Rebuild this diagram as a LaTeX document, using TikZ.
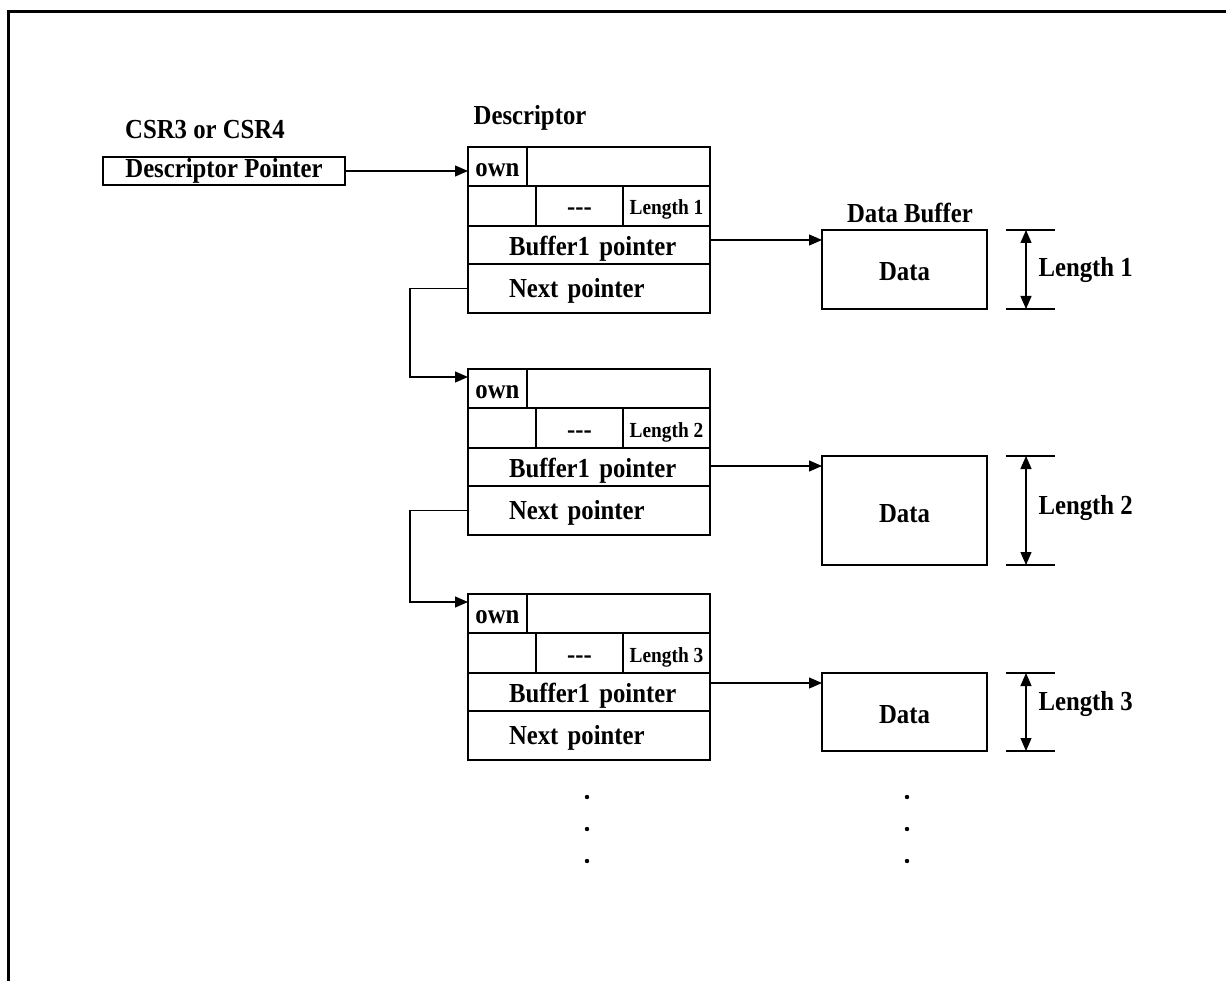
\documentclass[tikz,border=0pt]{standalone}
\usepackage{fontspec}
\setmainfont{Liberation Serif}[FakeStretch=0.9]
\usepackage{tikz}
\usetikzlibrary{calc}
\usetikzlibrary{arrows.meta}
\tikzstyle{txt}=[font=\bfseries\fontsize{27.5}{32}\selectfont]
\tikzstyle{smalltxt}=[font=\bfseries\fontsize{21.5}{25}\selectfont]
\tikzstyle{cell}=[draw,line width=1.2pt,inner sep=0pt,outer sep=0pt,anchor=north west,txt,text height=20pt,text depth=0pt]
\tikzstyle{ptr}=[line width=1.2pt,-{Triangle[length=13pt,width=11pt]}]
\tikzstyle{dim}=[line width=1.2pt,{Triangle[length=13pt,width=11pt]}-{Triangle[length=13pt,width=11pt]}]

\begin{document}
\begin{tikzpicture}[x=1pt,y=-1pt]
  \useasboundingbox (0,0) rectangle (1226,981);
  \draw[line width=3pt] (8,981) -- (8,12) -- (1226,12);

  \node[txt] (csr) at (205,130) {CSR3 or CSR4};
  \node[cell,minimum width=242pt,minimum height=28pt,text height=14pt] (dptr) at (103,157) {Descriptor Pointer};
  \node[txt] (desc) at (530,118) {Descriptor};
  \node[txt] (dbuf) at (910,213) {Data Buffer};

  % descriptors
  \foreach \i/\t in {1/147,2/369,3/594}{
    \node[cell,minimum width=59pt,minimum height=39pt] (own\i) at (468,\t) {own};
    \node[cell,minimum width=183pt,minimum height=39pt] (ownr\i) at (own\i.north east) {};
    \node[cell,minimum width=68pt,minimum height=40pt] (sa\i) at (own\i.south west) {};
    \node[cell,minimum width=87pt,minimum height=40pt] (sb\i) at (sa\i.north east) {-{}-{}-};
    \node[cell,smalltxt,minimum width=87pt,minimum height=40pt,text height=18pt] (len\i) at (sb\i.north east) {Length \i};
    \node[cell,text width=242pt,align=left,minimum height=38pt,text height=21pt] (buf\i) at (sa\i.south west) {\hspace*{41pt}Buffer1 pointer};
    \node[cell,text width=242pt,align=left,minimum height=49pt,text height=18pt] (next\i) at (buf\i.south west) {\hspace*{41pt}Next pointer};
  }

  \draw[ptr] (dptr.east) -- (dptr.east -| own1.west);
  \foreach \i/\j in {1/2,2/3}{
    \draw[ptr] (next\i.west) -- ++(-58,0) |- ($(own\j.north west)+(0,8)$);
  }

  % data buffers
  \foreach \i/\t/\h/\l in {1/230/79/270,2/456/109/508,3/673/78/704}{
    \node[cell,minimum width=165pt,minimum height=\h pt,text height=23pt] (data\i) at (822,\t) {Data};
    \coordinate (in\i) at ($(data\i.north west)+(0,10)$);
    \draw[ptr] (buf\i.east |- in\i) -- (in\i);
    \coordinate (dt\i) at ($(data\i.north east)+(39,0)$);
    \coordinate (db\i) at ($(data\i.south east)+(39,0)$);
    \draw[line width=1.2pt] ($(dt\i)+(-20,0)$) -- ++(49,0);
    \draw[line width=1.2pt] ($(db\i)+(-20,0)$) -- ++(49,0);
    \draw[dim] (dt\i) -- (db\i);
    \node[txt,anchor=west] (dl\i) at (1035,\l) {Length \i};
  }

  \foreach \x in {587,907}{
    \foreach \y in {797,829,861}{
      \fill (\x,\y) circle (2.2pt);
    }
  }
\end{tikzpicture}
\end{document}
